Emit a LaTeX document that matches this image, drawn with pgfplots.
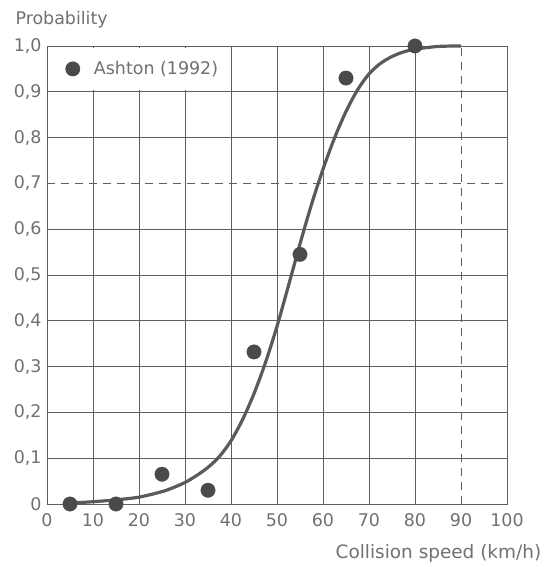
\documentclass[border=0pt]{standalone}
\usepackage{fontspec}
\setmainfont{DejaVu Sans}
\usepackage{pgfplots}
\pgfplotsset{compat=1.18}
\definecolor{txt}{HTML}{707070}
\definecolor{gridc}{HTML}{5E5E5E}
\definecolor{curvec}{HTML}{5A5A5A}
\definecolor{dotc}{HTML}{4A4A4A}
\newcommand{\sevlabel}{0,7}
\begin{document}
\begin{tikzpicture}
\path[use as bounding box] (-47bp,-63bp) rectangle (500bp,504bp);
\begin{axis}[
  at={(0,0)}, anchor=south west,
  scale only axis, width=460bp, height=458bp,
  xmin=0, xmax=100, ymin=0, ymax=1,
  clip=false,
  axis line style={gridc, line width=0.9bp},
  major tick length=0pt,
  xtick={0,10,20,30,40,50,60,70,80,100},
  xticklabels={0,10,20,30,40,50,60,70,80,100},
  extra x ticks={90}, extra x tick labels={90},
  extra x tick style={grid=major, major grid style={gridc, line width=0.9bp, dash pattern=on 8bp off 6bp}},
  ytick={0,0.1,0.2,0.3,0.4,0.5,0.6,0.8,0.9,1},
  yticklabels={0,{0,1},{0,2},{0,3},{0,4},{0,5},{0,6},{0,8},{0,9},{1,0}},
  extra y ticks={0.7}, extra y tick labels={\sevlabel},
  extra y tick style={grid=major, major grid style={gridc, line width=0.9bp, dash pattern=on 8bp off 6bp}},
  grid=major,
  major grid style={gridc, line width=0.9bp},
  tick label style={font=\fontsize{17.5}{20}\selectfont, text=txt},
  xticklabel style={yshift=-6bp},
  yticklabel style={xshift=-2bp},
  ylabel={Probability},
  ylabel style={rotate=-90, at={(axis description cs:-0.076,1.046)}, anchor=base west, font=\fontsize{17.5}{20}\selectfont, text=txt},
  xlabel={Collision speed (km/h)},
  xlabel style={at={(axis description cs:1.082,-0.120)}, anchor=base east, font=\fontsize{18.5}{21}\selectfont, text=txt},
  legend style={at={(axis cs:4.0,0.95)}, anchor=west, draw=none, fill=none, font=\fontsize{17.5}{20}\selectfont, text=txt, inner sep=0pt,
    /tikz/every odd column/.append style={column sep=12bp}},
  legend cell align=left,
]
\addplot[fill=white, draw=none, forget plot] coordinates {(0.4,0.904) (39.6,0.904) (39.6,0.996) (0.4,0.996)} -- cycle;
\addplot[curvec, line width=3.2bp, smooth, forget plot] coordinates {
(5,0.002) (10,0.005) (15,0.009) (20,0.015) (25,0.027) (27.5,0.036) (30,0.047) (32.5,0.062) (35,0.08)
(37.5,0.104) (40,0.138) (42.5,0.184) (45,0.241) (47.5,0.309) (50,0.388) (52.5,0.477) (55,0.568)
(57.5,0.654) (60,0.731) (62.5,0.799) (65,0.857) (67.5,0.904) (70,0.939) (72.5,0.962) (75,0.977)
(77.5,0.987) (80,0.993) (85,0.999) (90,1.0)};
\addplot[only marks, mark=*, mark size=7.2bp, color=dotc, mark options={fill=dotc, draw=dotc}] coordinates {
(5,0) (15,0) (25,0.065) (35,0.03) (45,0.332) (55,0.545) (65,0.93) (80,1.0)};
\addlegendentry{Ashton (1992)}
\end{axis}
\end{tikzpicture}
\end{document}
